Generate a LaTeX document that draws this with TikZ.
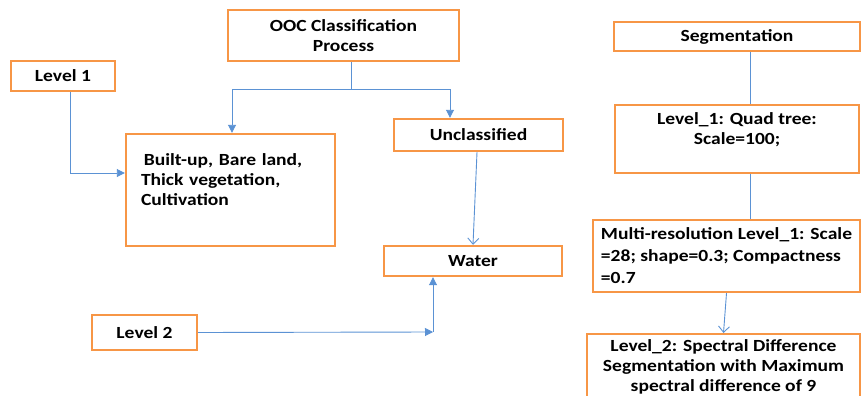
\documentclass[tikz,border=0pt]{standalone}
\usepackage{fontspec}
\setmainfont{Carlito}[FakeStretch=1.15]
\usetikzlibrary{arrows.meta}
\definecolor{boxorange}{RGB}{247,150,70}
\definecolor{lineblue}{RGB}{91,146,212}
\def\SplitX{351}
\def\SplitY{89}
\def\TurnX{433}
\def\TurnY{332}
\def\SegX{750}

\begin{document}
\begin{tikzpicture}[x=1pt, y=-1pt,
  box/.style={draw=boxorange, line width=2.4pt, fill=white, inner sep=0pt,
    align=center, font=\fontsize{17}{20}\selectfont\bfseries},
  link/.style={draw=lineblue, line width=0.9pt},
  arr/.style={link, -{Triangle[length=8pt, width=8pt]}},
  arrv/.style={link, -{Straight Barb[length=6pt, width=11pt]}}]
\clip (0,0) rectangle (862,396);
\useasboundingbox (0,0) rectangle (862,396);

\node[box, minimum width=231pt, minimum height=51pt] (ooc) at (343.5,35.5) {OOC Classification\\Process};
\node[box, minimum width=104pt, minimum height=30pt] (lvlone) at (63,76) {Level 1};
\node[box, minimum height=112pt, text width=179pt, inner xsep=15pt, align=left] (built) at (230.5,190)
  {\,Built-up, Bare land,\\Thick vegetation,\\Cultivation\\[-6pt]\strut};
\node[box, minimum width=169pt, minimum height=32pt] (unc) at (478.5,135) {Unclassified};
\node[box, minimum width=178pt, minimum height=30pt] (water) at (473,261) {Water};
\node[box, minimum width=105pt, minimum height=35pt] (lvltwo) at (144.5,332.5) {Level 2};

\node[box, minimum width=246pt, minimum height=29pt] (seg) at (737,36.5) {Segmentation};
\node[box, minimum width=244pt, minimum height=68pt] (quad) at (737,139) {Level\_1: Quad tree:\\Scale=100;\\[-6pt]\strut};
\node[box, minimum width=267pt, minimum height=72pt, align=left, font=\fontsize{17}{22}\selectfont\bfseries] (multi) at (726.5,256)
  {Multi-resolution Level\_1: Scale\\=28; shape=0.3; Compactness\\=0.7};
\node[box, minimum width=273pt, minimum height=65pt, anchor=north] (spec) at (723.5,333)
  {Level\_2: Spectral Difference\\Segmentation with Maximum\\spectral difference of 9};

\coordinate (split) at (\SplitX,\SplitY);
\coordinate (turn) at (\TurnX,\TurnY);

\draw[link] (ooc.south -| split) -- (split);
\draw[arr] (split) -| ([xshift=1.5pt]built.north);
\draw[arr] (split) -| ([xshift=-28.5pt]unc.north);
\draw[arr] ([xshift=7pt]lvlone.south) |- ([yshift=17pt]built.west);
\draw[arrv] ([xshift=-1.5pt]unc.south) -- (water.north);
\draw[arr] (lvltwo.east) -- (turn);
\draw[arr] (turn) -- (turn |- water.south);

\draw[link] (seg.south -| \SegX,0) -- (quad.north -| \SegX,0);
\draw[link] (quad.south -| \SegX,0) -- (multi.north -| \SegX,0);
\draw[arrv] (multi.south) -- (spec.north);
\end{tikzpicture}
\end{document}
